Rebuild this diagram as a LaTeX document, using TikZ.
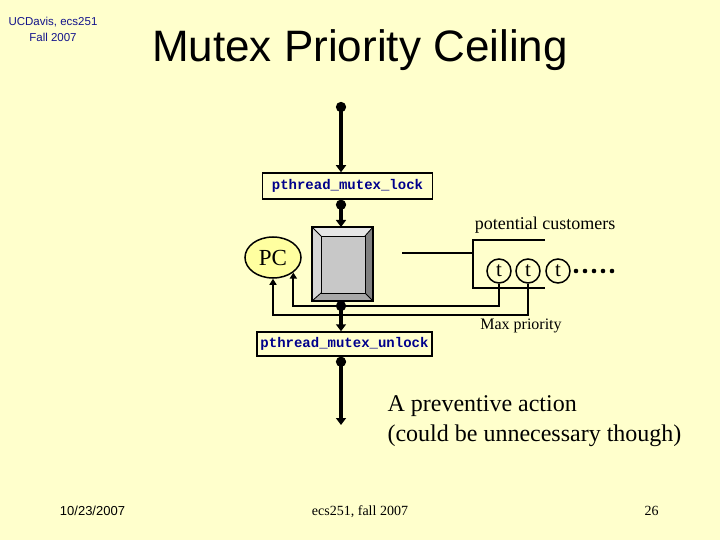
\documentclass[tikz,border=0pt]{standalone}
\usepackage{fontspec}
\setmainfont{Liberation Serif}
\setsansfont{Liberation Sans}
\setmonofont{Liberation Mono}
\usetikzlibrary{arrows.meta,shapes.geometric,calc}
\definecolor{bg}{RGB}{255,255,204}
\definecolor{pcfill}{RGB}{255,255,160}
\definecolor{navy}{RGB}{0,0,140}
\definecolor{hdr}{RGB}{20,20,140}
\definecolor{bevtop}{RGB}{230,230,230}
\definecolor{bevleft}{RGB}{214,214,214}
\definecolor{bevright}{RGB}{128,128,128}
\definecolor{bevbot}{RGB}{168,168,168}
\definecolor{face}{RGB}{200,200,200}
\begin{document}
\begin{tikzpicture}[x=1pt,y=-1pt,
  thickline/.style={line width=4pt,{Circle[length=10pt]}-{Triangle[length=7pt,width=10pt]}},
  thinline/.style={line width=1.8pt},
  thinarrow/.style={line width=1.8pt,-{Triangle[length=6pt,width=7pt]}},
  codebox/.style={draw,line width=1.5pt,fill=bg,inner sep=0pt,text=navy,font=\fontsize{14}{14}\selectfont\ttfamily\bfseries},
  tcirc/.style={circle,draw,line width=1.5pt,fill=bg,minimum size=24pt,inner sep=0pt,font=\fontsize{21}{21}\selectfont},
  edge/.style={line width=0.8pt}]
\useasboundingbox (0,0) rectangle (720,540);
\fill[bg] (0,0) rectangle (720,540);

% header
\node[text=hdr,font=\fontsize{11.5}{11.5}\selectfont\sffamily] (hd1) at (53,22) {UCDavis, ecs251};
\node[text=hdr,font=\fontsize{11.5}{11.5}\selectfont\sffamily] (hd2) at (53,37) {Fall 2007};
\node[anchor=base,font=\fontsize{44}{44}\selectfont\sffamily] (title) at (360,62) {Mutex Priority Ceiling};

% boxes
\node[codebox,minimum width=170pt,minimum height=26pt] (lock) at (347.5,186) {pthread\_mutex\_lock};
\node[codebox,minimum width=175pt,minimum height=24pt] (unlock) at (344.5,344) {pthread\_mutex\_unlock};

% mutex box (bevelled)
\node[minimum width=61pt,minimum height=74pt,inner sep=0pt,outer sep=0pt] (mutex) at (342.5,264) {};
\fill[bevtop] (312,227) -- (373,227) -- (365,236) -- (321,236) -- cycle;
\fill[bevleft] (312,227) -- (321,236) -- (321,293) -- (312,301) -- cycle;
\fill[bevright] (373,227) -- (373,301) -- (365,293) -- (365,236) -- cycle;
\fill[bevbot] (312,301) -- (373,301) -- (365,293) -- (321,293) -- cycle;
\fill[face] (321,236) rectangle (365,293);
\draw[edge] (321,236) rectangle (365,293);
\draw[edge] (312,227) -- (321,236) (373,227) -- (365,236) (312,301) -- (321,293) (373,301) -- (365,293);
\draw[line width=1.5pt] (mutex.north west) rectangle (mutex.south east);

% PC
\node[ellipse,draw,line width=1.5pt,fill=pcfill,minimum width=56pt,minimum height=41pt,inner sep=0pt,font=\fontsize{23}{23}\selectfont] (PC) at (273,257.5) {PC};

% potential customers
\coordinate (brin) at (402,253);
\coordinate (brjoin) at (473,253);
\coordinate (brtop) at (545,240);
\coordinate (brbot) at (545,288);
\draw[thinline] (brin) -- (brjoin);
\draw[thinline] (brtop) -| (brjoin) |- (brbot);
\node[tcirc] (t1) at (499,271) {t};
\node[tcirc] (t2) at (528,271) {t};
\node[tcirc] (t3) at (558,271) {t};
\foreach \i in {0,...,4} \fill (576+9*\i,271) circle (2.3);
\node[font=\fontsize{18}{18}\selectfont] (pcust) at (545,225) {potential customers};
\node[font=\fontsize{16}{16}\selectfont] (maxp) at (521,326) {Max priority};

% priority arrows to PC
\coordinate (r1) at (0,306);
\coordinate (r2) at (0,315);
\draw[thinarrow] (t1.south) |- (PC.south east |- r1) -- (PC.south east);
\draw[thinarrow] (t2.south) |- (PC.south |- r2) -- (PC.south);

% main vertical flow
\coordinate (topdot) at (341,102);
\coordinate (botend) at (341,425);
\draw[thickline] (topdot) -- (topdot |- lock.north);
\draw[thickline] (topdot |- lock.south) -- (topdot |- mutex.north);
\draw[thickline] (topdot |- mutex.south) -- (topdot |- unlock.north);
\draw[thickline] (topdot |- unlock.south) -- (botend);

% note
\node[anchor=base west,font=\fontsize{24}{24}\selectfont] (note1) at (384,411) {A preventive action};
\node[anchor=base west,font=\fontsize{24}{24}\selectfont] (note2) at (384,441) {(could be unnecessary though)};

% footer
\node[anchor=base,font=\fontsize{13}{13}\selectfont\sffamily] (date) at (92.5,515) {10/23/2007};
\node[anchor=base,font=\fontsize{14}{14}\selectfont] (course) at (360,515) {ecs251, fall 2007};
\node[anchor=base,font=\fontsize{14}{14}\selectfont] (page) at (651.5,515) {26};
\end{tikzpicture}
\end{document}
